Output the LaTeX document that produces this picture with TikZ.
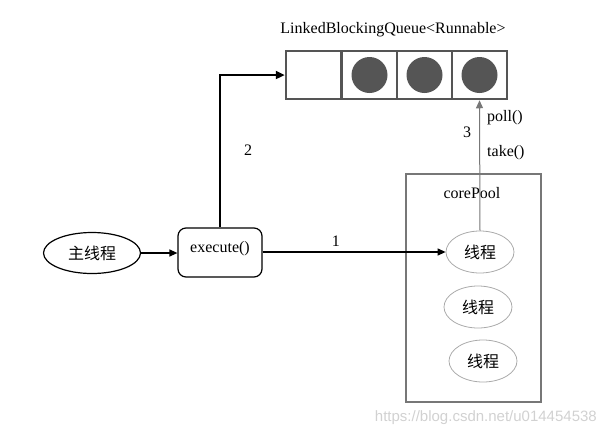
\documentclass[tikz,border=0pt]{standalone}
\usepackage{fontspec}
\setmainfont{Liberation Serif}
\newfontfamily\cjk{Noto Sans CJK SC}
\newfontfamily\wmfont{Liberation Sans}
\usetikzlibrary{arrows.meta,shapes.geometric}
\definecolor{qgray}{HTML}{555555}
\definecolor{bgray}{HTML}{777777}
\definecolor{lgray}{HTML}{AAAAAA}
\tikzset{
  lbl/.style={font=\fontsize{16}{18}\selectfont, inner sep=0pt},
  cell/.style={draw=qgray, line width=2.5pt, minimum width=55pt, minimum height=48pt, inner sep=0pt},
  ball/.style={circle, fill=qgray, minimum size=36pt, inner sep=0pt},
  thr/.style={ellipse, draw=lgray, line width=0.8pt, minimum width=68pt, minimum height=42pt, inner sep=0pt, font=\cjk\fontsize{16}{18}\selectfont},
  tip/.style={-{Triangle[length=8pt,width=7pt]}}
}
\begin{document}
\begin{tikzpicture}[x=1pt,y=-1pt]
\useasboundingbox (0,0) rectangle (606,440);
% queue
\node[lbl] (title) at (393,30) {LinkedBlockingQueue<Runnable>};
\node[cell] (c1) at (313.5,75) {};
\node[cell] (c2) at (369.5,75) {};
\node[cell] (c3) at (424.5,75) {};
\node[cell] (c4) at (479.5,75) {};
\node[ball] (b2) at (c2) {};
\node[ball] (b3) at (c3) {};
\node[ball] (b4) at (c4) {};
% main thread and execute
\node[ellipse, draw=black, line width=1.2pt, minimum width=97pt, minimum height=41pt, inner sep=0pt, font=\cjk\fontsize{16}{18}\selectfont] (main) at (92,253) {主线程};
\node[draw=black, line width=1.2pt, rounded corners=8pt, minimum width=84pt, minimum height=49pt, inner sep=0pt, lbl] (exec) at (220,252.5) {};
\node[lbl] (exectext) at (220,249) {execute()};
% core pool
\node[draw=bgray, line width=2pt, minimum width=135pt, minimum height=228pt, inner sep=0pt] (pool) at (473.5,288) {};
\node[lbl] (pooltitle) at (472,193) {corePool};
\node[thr] (t1) at (480,252) {线程};
\node[thr] (t2) at (478,307) {线程};
\node[thr] (t3) at (483,361) {线程};
% connectors
\draw[tip, line width=1.2pt] (main.east) -- (main.east -| exec.west);
\draw[tip, line width=1.2pt] (exec.east |- t1.west) -- node[lbl, pos=0.4, above=5pt] {1} (t1.west);
\draw[line width=2.5pt, -{Triangle[length=9pt,width=8pt]}] (exec.north) |- (c1.west);
\node[lbl] (l2) at (248,150) {2};
\draw[draw=bgray, line width=1pt, -{Triangle[length=8pt,width=7pt]}] (t1.north) -- (c4.south);
\node[lbl] (l3) at (467,132) {3};
\node[lbl, anchor=west] (lpoll) at (487,118) {poll()};
\node[lbl, anchor=west] (ltake) at (487,153) {take()};
% watermark
\node[font=\wmfont\fontsize{15}{17}\selectfont, text=black!18, anchor=east, inner sep=0pt] (wm) at (597,418) {https://blog.csdn.net/u014454538};
\end{tikzpicture}
\end{document}
